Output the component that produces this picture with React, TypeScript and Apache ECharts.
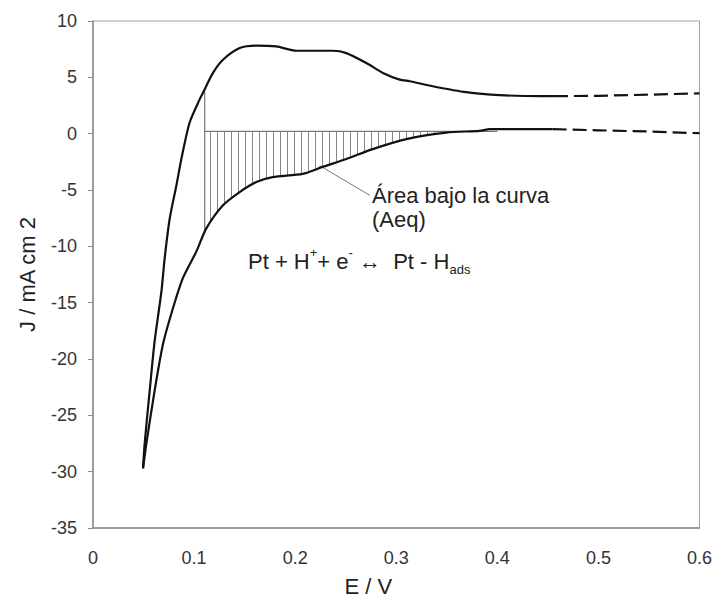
import React, { useEffect, useRef } from "react";
import * as echarts from "echarts";

// Anodic sweep (upper branch), E / V vs J / mA cm-2
const upperSolid: [number, number][] = [
  [0.0495, -29.7], [0.0511, -27.5], [0.0561, -22.8], [0.061, -18.4],
  [0.0677, -14.0], [0.0709, -11.06], [0.0759, -7.53], [0.0825, -4.6],
  [0.0874, -2.25], [0.0956, 0.99], [0.1055, 3.04], [0.1088, 3.63],
  [0.1187, 5.39], [0.1286, 6.56], [0.1451, 7.6], [0.1616, 7.82],
  [0.1814, 7.74], [0.2012, 7.36], [0.2374, 7.36], [0.2506, 7.15],
  [0.2704, 6.27], [0.2868, 5.39], [0.3034, 4.8], [0.3133, 4.65],
  [0.336, 4.21], [0.3693, 3.68], [0.4025, 3.42], [0.4448, 3.33],
  [0.456, 3.33],
];
const upperDashed: [number, number][] = [
  [0.456, 3.33], [0.5, 3.36], [0.55, 3.46], [0.6, 3.58],
];
// Cathodic sweep (lower branch)
const lowerSolid: [number, number][] = [
  [0.0495, -29.7], [0.0528, -27.5], [0.061, -22.8], [0.0692, -18.7],
  [0.0791, -15.5], [0.089, -12.8], [0.1022, -10.47], [0.1121, -8.41],
  [0.1286, -6.36], [0.1451, -5.18], [0.1616, -4.3], [0.1777, -3.86],
  [0.2074, -3.57], [0.2272, -2.95], [0.2506, -2.25], [0.2767, -1.37],
  [0.31, -0.48], [0.3495, 0.1], [0.3824, 0.25], [0.3924, 0.4],
  [0.4547, 0.4],
];
const lowerDashed: [number, number][] = [
  [0.4547, 0.4], [0.5, 0.3], [0.55, 0.19], [0.6, 0.04],
];
// Hatched area (Aeq) between the baseline and the cathodic branch
const hatchCurve: [number, number][] = [
  [0.1105, -8.55], [0.1121, -8.41], [0.1286, -6.36], [0.1451, -5.18],
  [0.1616, -4.3], [0.1777, -3.86], [0.2074, -3.57], [0.2272, -2.95],
  [0.2506, -2.25], [0.2767, -1.37], [0.31, -0.48], [0.3495, 0.1],
  [0.3824, 0.2],
];
const hatchBaseline = 0.2;
const hatchEdge: [number, number][] = [[0.1105, 3.77], [0.1105, -8.55]];
const hatchTop: [number, number][] = [[0.1105, hatchBaseline], [0.40, hatchBaseline]];
const leader: [number, number][] = [[0.2242, -2.84], [0.274, -5.48]];

const xMin = 0, xMax = 0.6, xStep = 0.1;
const yMin = -35, yMax = 10, yStep = 5;

const FONT = "'Liberation Sans', Arial, sans-serif";

export default function App() {
  const ref = useRef<HTMLDivElement>(null);
  useEffect(() => {
    if (!ref.current) return;
    const chart = echarts.init(ref.current, undefined, { renderer: "svg" });

    const cv = document.createElement("canvas");
    cv.width = 7;
    cv.height = 8;
    const ctx = cv.getContext("2d")!;
    ctx.fillStyle = "#ffffff";
    ctx.fillRect(0, 0, 7, 8);
    ctx.fillStyle = "#858585";
    ctx.fillRect(0, 0, 1, 8);

    const lineBase = { type: "line" as const, showSymbol: false, symbol: "none", silent: true };
    const curve = { smooth: 0.25 };

    chart.setOption({
      animation: false,
      backgroundColor: "#ffffff",
      textStyle: { fontFamily: FONT },
      grid: {
        left: 93, right: 15, top: 21, bottom: 70,
        show: true, borderColor: "#a0a0a0", borderWidth: 1,
      },
      xAxis: {
        type: "value", min: xMin, max: xMax, interval: xStep,
        name: "E / V", nameLocation: "middle", nameGap: 47,
        nameTextStyle: { fontSize: 22, color: "#222", fontFamily: FONT, padding: [0, 56, 0, 0] },
        axisLine: { show: true, onZero: false, lineStyle: { color: "#8c8c8c", width: 1.5 } },
        axisTick: { show: false },
        splitLine: { show: false },
        axisLabel: {
          margin: 21, fontSize: 18, color: "#333", fontFamily: FONT,
          formatter: (v: number) => (v === 0 ? "0" : String(Math.round(v * 10) / 10)),
        },
      },
      yAxis: {
        type: "value", min: yMin, max: yMax, interval: yStep,
        name: "J / mA cm 2", nameLocation: "middle", nameGap: 55,
        nameTextStyle: { fontSize: 22, color: "#222", fontFamily: FONT },
        axisLine: { show: true, onZero: false, lineStyle: { color: "#8c8c8c", width: 1.5 } },
        axisTick: { show: true, inside: false, length: 5, lineStyle: { color: "#8c8c8c" } },
        splitLine: { show: false },
        axisLabel: { margin: 16, fontSize: 18, color: "#333", fontFamily: FONT },
      },
      series: [
        {
          ...lineBase, ...curve, data: hatchCurve,
          lineStyle: { width: 0, opacity: 0 },
          areaStyle: { origin: hatchBaseline, color: { image: cv, repeat: "repeat" }, opacity: 1 },
          z: 1,
        },
        { ...lineBase, data: hatchEdge, lineStyle: { color: "#777", width: 1.2 }, z: 2 },
        { ...lineBase, data: hatchTop, lineStyle: { color: "#777", width: 1.2 }, z: 2 },
        { ...lineBase, data: leader, lineStyle: { color: "#777", width: 1 }, z: 2 },
        { ...lineBase, ...curve, data: upperSolid, lineStyle: { color: "#111", width: 2.2 }, z: 3 },
        { ...lineBase, data: upperDashed, lineStyle: { color: "#111", width: 2.2, type: [14, 6] }, z: 3 },
        { ...lineBase, ...curve, data: lowerSolid, lineStyle: { color: "#111", width: 2.2 }, z: 3 },
        { ...lineBase, data: lowerDashed, lineStyle: { color: "#111", width: 2.2, type: [14, 6] }, z: 3 },
      ],
      graphic: [
        {
          type: "text", left: 372, top: 184, silent: true,
          style: { text: "Área bajo la curva", fontSize: 22, fill: "#222", fontFamily: FONT },
        },
        {
          type: "text", left: 372, top: 208, silent: true,
          style: { text: "(Aeq)", fontSize: 22, fill: "#222", fontFamily: FONT },
        },
        {
          type: "text", left: 248, top: 246, silent: true,
          style: {
            text: "{a|Pt + H}{sup|+}{a|+ e}{sup|-}{a| \u2194  Pt - H}{sub|ads}",
            fill: "#222", fontFamily: FONT,
            rich: {
              a: { fontSize: 22, fill: "#222", lineHeight: 30, verticalAlign: "middle", fontFamily: FONT },
              sup: { fontSize: 13, fill: "#222", lineHeight: 30, verticalAlign: "top", fontFamily: FONT },
              sub: { fontSize: 13, fill: "#222", lineHeight: 30, verticalAlign: "bottom", fontFamily: FONT },
            },
          },
        },
      ],
    });
    return () => chart.dispose();
  }, []);
  return (
    <div
      ref={ref}
      style={{ position: "fixed", left: 0, top: 0, width: 715, height: 602, background: "#fff" }}
    />
  );
}
